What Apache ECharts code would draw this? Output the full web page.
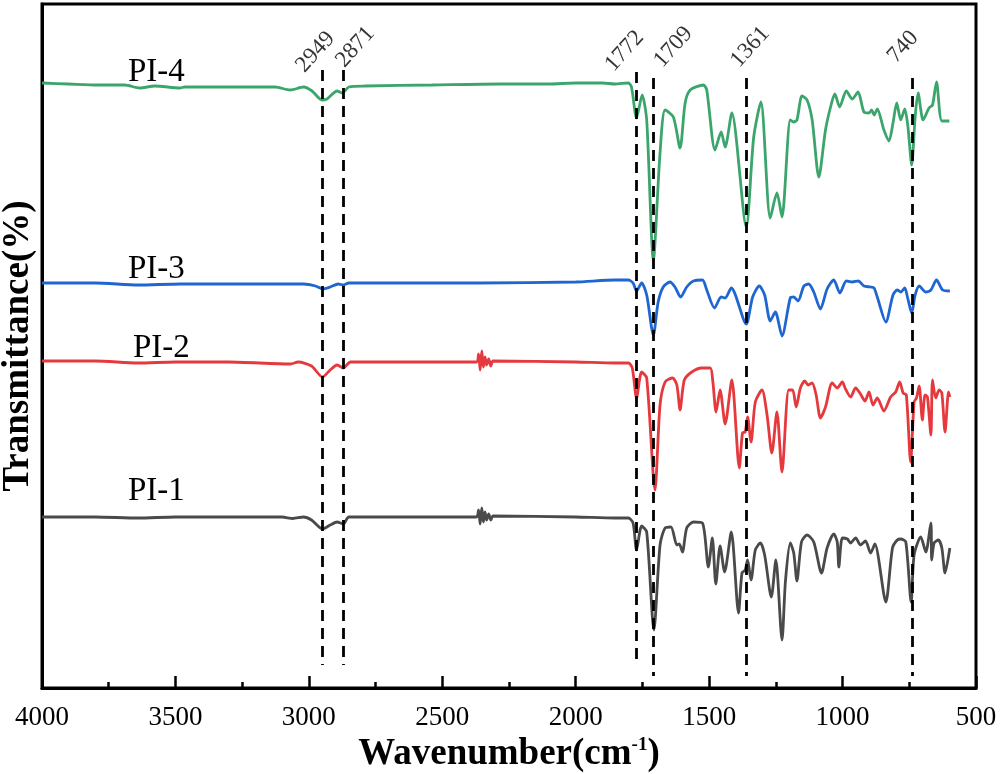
<!DOCTYPE html>
<html><head><meta charset="utf-8">
<script src="https://cdn.jsdelivr.net/npm/echarts@6/dist/echarts.min.js"></script>
<style>html,body{margin:0;padding:0;background:#fff}#c{width:1000px;height:774px}</style>
</head><body><div id="c"></div>
<script>
// x ticks: 4000 → 500 step 500 (inverted axis)
const xMin = 500, xMax = 4000, xStep = 500;
const seriesNames = ['PI-1', 'PI-2', 'PI-3', 'PI-4'];
const peakWavenumbers = [2949, 2871, 1772, 1709, 1361, 740];
const peakLabels = ['2949', '2871', '1772', '1709', '1361', '740'];

// [wavenumber, transmittance (arbitrary, stacked offsets)]
const pi4 = [[4000,605],[3900,604],[3790,603],[3690,603],[3634,600],[3577,602],[3483,600],[3465,601],[3289,601],[3126,601],[3070,598],[3020,601],[2988,597],[2951,588],[2932,589],[2894,597],[2875,595],[2850,601],[2787,602],[2538,603],[2286,604],[2100,604],[2000,605],[1900,605],[1853,604],[1803,605],[1791,601],[1772,570],[1751,593],[1734,568],[1709,428],[1684,535],[1665,578],[1634,571],[1609,540],[1590,585],[1571,598],[1521,603],[1509,598],[1478,538],[1455,556],[1440,541],[1415,575],[1361,461],[1333,551],[1306,586],[1271,470],[1246,495],[1227,471],[1196,568],[1183,566],[1171,568],[1152,592],[1133,588],[1114,568],[1089,511],[1064,558],[1045,581],[1029,594],[1011,581],[986,597],[964,589],[942,596],[920,576],[901,575],[891,578],[882,573],[870,579],[845,558],[826,547],[811,565],[797,585],[782,568],[767,579],[755,561],[741,523],[728,571],[717,595],[698,568],[676,580],[663,583],[648,606],[628,567],[600,567]];

const pi3 = [[4000,405],[3800,405],[3640,403],[3480,404],[3200,404],[3020,404],[2975,402],[2949,399],[2920,401],[2890,404],[2871,403],[2850,405],[2600,405],[2360,405],[2000,406],[1853,408],[1803,408],[1785,405],[1772,397],[1753,405],[1734,393],[1709,353],[1691,386],[1672,401],[1647,406],[1628,401],[1607,391],[1584,401],[1559,407],[1525,408],[1509,398],[1480,380],[1455,391],[1440,390],[1417,400],[1361,364],[1337,391],[1312,402],[1292,393],[1271,367],[1252,376],[1227,352],[1196,390],[1183,391],[1167,387],[1145,402],[1127,404],[1108,396],[1083,379],[1058,399],[1033,408],[1010,395],[986,407],[964,406],[941,407],[920,402],[895,401],[882,400],[870,391],[838,366],[811,393],[795,398],[782,396],[767,400],[756,390],[741,375],[728,393],[713,402],[688,396],[669,398],[648,408],[625,398],[598,397]];

const pi2 = [[4000,327],[3800,327],[3640,325],[3500,326],[3300,326],[3069,324],[3040,326],[2990,322],[2949,311],[2920,318],[2894,323],[2871,320],[2844,326],[2600,326],[2372,326],[2364,334],[2358,318],[2352,337],[2346,321],[2340,331],[2334,323],[2326,329],[2318,322],[2310,327],[2000,326],[1853,325],[1803,325],[1788,320],[1772,290],[1753,316],[1734,310],[1703,198],[1684,283],[1665,306],[1637,310],[1621,303],[1609,278],[1593,308],[1565,316],[1528,320],[1496,320],[1486,306],[1474,276],[1459,298],[1440,264],[1415,308],[1387,220],[1375,255],[1365,256],[1356,271],[1343,246],[1327,286],[1302,298],[1283,273],[1265,235],[1246,276],[1227,216],[1202,298],[1187,298],[1174,281],[1158,300],[1142,307],[1129,303],[1114,305],[1099,293],[1083,270],[1064,281],[1039,305],[1020,300],[1001,306],[989,299],[970,291],[951,300],[933,294],[916,287],[901,296],[886,283],[870,290],[845,277],[820,291],[801,296],[786,306],[773,295],[761,293],[745,226],[732,286],[723,290],[713,302],[701,268],[691,293],[682,291],[669,253],[663,308],[651,290],[638,298],[628,295],[616,256],[603,296],[598,291]];

const pi1 = [[4000,171],[3800,171],[3640,170],[3500,171],[3300,171],[3100,171],[3060,169.5],[3020,171],[2990,168],[2949,159],[2920,163],[2894,166],[2871,164],[2850,171],[2600,171],[2372,171],[2364,178],[2358,164],[2352,180],[2346,166],[2340,176],[2334,168],[2326,174],[2318,168],[2310,172],[2000,171],[1853,170],[1803,170],[1785,165],[1772,138],[1753,162],[1734,156],[1707,58],[1684,143],[1665,160],[1643,161],[1621,143],[1612,144],[1600,136],[1584,160],[1559,166],[1525,165],[1503,121],[1488,150],[1475,104],[1459,142],[1442,116],[1417,156],[1390,75],[1377,115],[1365,118],[1356,128],[1343,108],[1327,138],[1308,145],[1292,133],[1267,91],[1250,128],[1227,48],[1214,107],[1196,145],[1183,135],[1171,107],[1154,146],[1133,153],[1108,146],[1079,115],[1058,140],[1033,154],[1020,146],[1014,121],[1001,150],[982,149],[970,145],[951,150],[933,143],[914,147],[895,135],[879,144],[838,86],[813,140],[795,148],[782,149],[763,146],[743,86],[732,133],[707,151],[688,136],[669,165],[666,128],[657,145],[641,148],[628,140],[616,115],[598,140]];

const spectra = [pi1, pi2, pi3, pi4];
const colors = ['#4a4a4a', '#e5393e', '#1f66d1', '#3ba56c'];

// dashed guide extents (data units) and label placement (pixels) — styling only
const guideTop = [618, 618, 616, 610, 610, 610];
const guideBottom = [23, 23, 22, 12, 12, 12];
const labelShift = [[-7,-18],[12,-23],[-12,-21],[20,-31],[4,-31],[-9,-31]];

const serif = 'Liberation Serif';
const chart = echarts.init(document.getElementById('c'), null, {renderer: 'canvas'});

const series = spectra.map((d, i) => ({
  name: seriesNames[i], type: 'line', data: d, showSymbol: false, symbol: 'none',
  smooth: 0.25, lineStyle: {color: colors[i], width: 2.8}, itemStyle: {color: colors[i]},
  z: 3, silent: true
}));

series.push({
  type: 'line', data: [], silent: true,
  markLine: {
    symbol: ['none', 'none'], silent: true, animation: false, label: {show: false},
    lineStyle: {color: '#000', type: [11, 7], width: 2.8},
    data: peakWavenumbers.map((w, i) => [{coord: [w, guideTop[i]]}, {coord: [w, guideBottom[i]]}])
  }
});

series.push({
  type: 'scatter', symbolSize: 0, silent: true, z: 5,
  data: peakWavenumbers.map((w, i) => ({
    value: [w, guideTop[i]],
    label: {show: true, formatter: peakLabels[i], position: labelShift[i], align: 'center', verticalAlign: 'middle',
      rotate: 48, fontFamily: serif, fontSize: 23, color: '#000'}
  }))
});

chart.setOption({
  animation: false,
  backgroundColor: '#fff',
  grid: {left: 42, right: 24, top: 4, bottom: 86, show: true, borderColor: '#000', borderWidth: 3,
    containLabel: false, outerBoundsMode: 'none'},
  xAxis: {
    type: 'value', min: xMin, max: xMax, interval: xStep, inverse: true,
    axisLine: {show: true, onZero: false, lineStyle: {color: '#000', width: 3}},
    axisTick: {show: true, inside: true, length: 12, lineStyle: {color: '#000', width: 2.5}},
    minorTick: {show: true, splitNumber: 2, length: 6, lineStyle: {color: '#000', width: 2.5}},
    splitLine: {show: false},
    axisLabel: {color: '#000', fontFamily: serif, fontSize: 27, margin: 16, formatter: v => String(v)},
    name: '{t|Wavenumber}{t|(cm}{s|-1}{t|)}', nameLocation: 'middle', nameGap: 42,
    nameTextStyle: {rich: {
      t: {fontFamily: serif, fontWeight: 'bold', fontSize: 37, color: '#000'},
      s: {fontFamily: serif, fontWeight: 'bold', fontSize: 19, color: '#000', verticalAlign: 'top'}
    }}
  },
  yAxis: {
    type: 'value', min: 0, max: 684,
    axisLine: {show: true, lineStyle: {color: '#000', width: 3}},
    axisTick: {show: false}, axisLabel: {show: false}, splitLine: {show: false},
    name: 'Transmittance(%)', nameLocation: 'middle', nameGap: 5,
    nameTextStyle: {fontFamily: serif, fontWeight: 'bold', fontSize: 37, color: '#000'}
  },
  graphic: [
    {type: 'text', left: 128, top: 56, style: {text: 'PI-4', font: '33px "Liberation Serif"', fill: '#000'}},
    {type: 'text', left: 128, top: 253, style: {text: 'PI-3', font: '33px "Liberation Serif"', fill: '#000'}},
    {type: 'text', left: 133, top: 332, style: {text: 'PI-2', font: '33px "Liberation Serif"', fill: '#000'}},
    {type: 'text', left: 128, top: 475, style: {text: 'PI-1', font: '33px "Liberation Serif"', fill: '#000'}}
  ],
  series: series
});
</script>
</body></html>
